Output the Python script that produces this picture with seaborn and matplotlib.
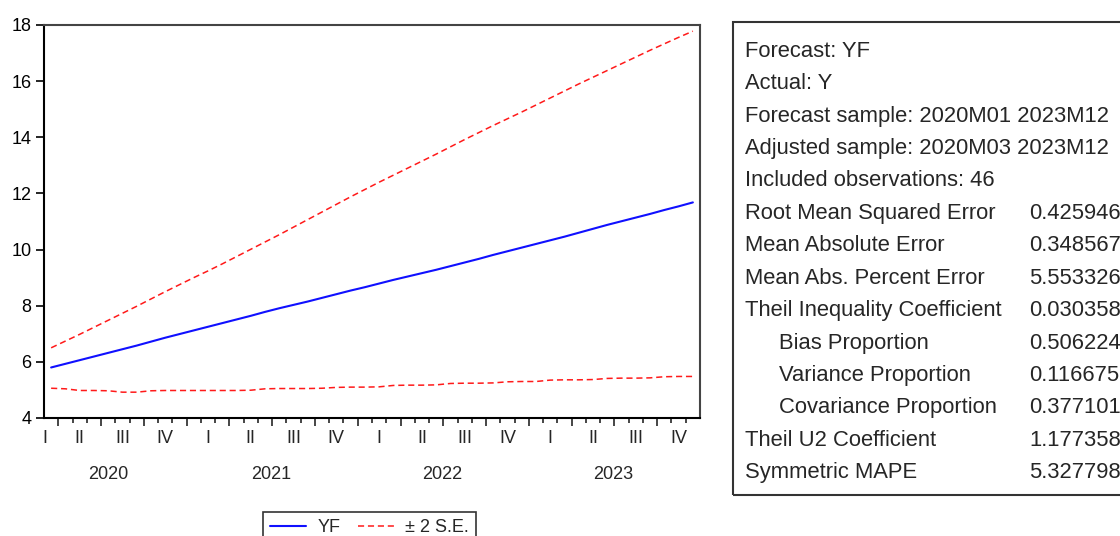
import numpy as np
import pandas as pd
import seaborn as sns
import matplotlib.pyplot as plt
from matplotlib.lines import Line2D
from matplotlib.patches import Rectangle

# ------------------ data ------------------

# slot index on the axis, one per month, 2020M03 .. 2023M12
slots = list(range(1, 47))

yf = [5.80, 5.93, 6.06, 6.19, 6.32, 6.45, 6.58, 6.72, 6.86, 6.99,
      7.12, 7.25, 7.38, 7.51, 7.64, 7.78, 7.91, 8.03, 8.15, 8.28,
      8.41, 8.54, 8.66, 8.79, 8.92, 9.04, 9.16, 9.28, 9.41, 9.54,
      9.67, 9.81, 9.94, 10.07, 10.20, 10.33, 10.46, 10.60, 10.74, 10.88,
      11.01, 11.14, 11.27, 11.41, 11.54, 11.68]

upper = [6.50, 6.74, 6.98, 7.23, 7.48, 7.73, 7.98, 8.24, 8.50, 8.75,
         9.00, 9.24, 9.49, 9.75, 10.01, 10.27, 10.53, 10.80, 11.07, 11.34,
         11.61, 11.88, 12.14, 12.40, 12.65, 12.90, 13.15, 13.40, 13.66, 13.92,
         14.17, 14.42, 14.66, 14.90, 15.15, 15.40, 15.65, 15.90, 16.14, 16.38,
         16.62, 16.86, 17.10, 17.33, 17.56, 17.78]

lower = [5.06, 5.04, 4.98, 4.98, 4.97, 4.92, 4.92, 4.97, 4.98, 4.98,
         4.98, 4.98, 4.98, 4.98, 4.99, 5.04, 5.05, 5.05, 5.05, 5.06,
         5.09, 5.10, 5.10, 5.11, 5.16, 5.17, 5.17, 5.18, 5.23, 5.24,
         5.24, 5.25, 5.29, 5.30, 5.30, 5.35, 5.36, 5.36, 5.37, 5.41,
         5.42, 5.42, 5.43, 5.47, 5.48, 5.48]

quarter_pos = [0.57, 3, 6, 9, 12, 15, 18, 21, 24, 27, 30, 33, 36, 39, 42, 45]
quarter_lab = ["I", "II", "III", "IV"] * 4
year_pos = [5.0, 16.4, 28.4, 40.4]
year_lab = ["2020", "2021", "2022", "2023"]

stat_names = ["Forecast: YF", "Actual: Y",
              "Forecast sample: 2020M01 2023M12",
              "Adjusted sample: 2020M03 2023M12",
              "Included observations: 46",
              "Root Mean Squared Error", "Mean Absolute Error",
              "Mean Abs. Percent Error", "Theil Inequality Coefficient",
              "Bias Proportion", "Variance Proportion", "Covariance Proportion",
              "Theil U2 Coefficient", "Symmetric MAPE"]
stat_values = ["", "", "", "", "",
               "0.425946", "0.348567", "5.553326", "0.030358",
               "0.506224", "0.116675", "0.377101", "1.177358", "5.327798"]
stat_indent = [False] * 9 + [True] * 3 + [False] * 2

# ------------------ plot ------------------

sns.set_style("ticks")
plt.rcParams['font.family'] = ['Liberation Sans', 'DejaVu Sans']

W, H = 1120, 536
fig = plt.figure(figsize=(W / 100, H / 100), dpi=100)
ax = fig.add_axes([44 / W, 1 - 418 / H, 656 / W, 393 / H])

blue = "#1010ff"
red = "#ff1a1a"
sns.lineplot(x=slots, y=upper, ax=ax, color=red, lw=1.1)
sns.lineplot(x=slots, y=lower, ax=ax, color=red, lw=1.1)
sns.lineplot(x=slots, y=yf, ax=ax, color=blue, lw=1.5)
for ln in ax.lines[:2]:
    ln.set_dashes((4, 2.5))

ax.set_xlim(0.5, 46.5)
ax.set_ylim(4, 18)
ax.set_yticks(range(4, 19, 2))
ax.tick_params(axis='y', left=True, direction='out', length=6, width=1.2,
               labelsize=13, pad=3, colors='black')

# month ticks at slot edges, longer ticks every quarter
edges = np.arange(1.5, 46, 1.0)
major = [e for e in edges if (e - 1.5) % 3 == 0]
minor = [e for e in edges if (e - 1.5) % 3 != 0]
ax.set_xticks(major)
ax.set_xticks(minor, minor=True)
ax.set_xticklabels([])
ax.tick_params(axis='x', which='major', bottom=True, direction='out',
               length=6, width=1.2)
ax.tick_params(axis='x', which='minor', bottom=True, direction='out',
               length=3.5, width=1.2)

for s in ["left", "bottom"]:
    ax.spines[s].set_color("black")
    ax.spines[s].set_linewidth(1.5)
for s in ["top", "right"]:
    ax.spines[s].set_visible(True)
    ax.spines[s].set_color("#444444")
    ax.spines[s].set_linewidth(1.5)

tr = ax.get_xaxis_transform()
for p, lab in zip(quarter_pos, quarter_lab):
    ax.text(p, -0.051, lab, transform=tr, ha='center', va='center',
            fontsize=13, clip_on=False)
for p, lab in zip(year_pos, year_lab):
    ax.text(p, -0.145, lab, transform=tr, ha='center', va='center',
            fontsize=13, clip_on=False)

# legend, partly cut by the bottom edge like the original
handles = [Line2D([], [], color=blue, lw=1.5),
           Line2D([], [], color=red, lw=1.1, dashes=(4, 2.5))]
leg = fig.legend(handles, ["YF", "± 2 S.E."], loc='upper left',
                 bbox_to_anchor=(263 / W, 1 - 512 / H), ncol=2,
                 fontsize=13, frameon=True, fancybox=False,
                 edgecolor='black', borderaxespad=0, handlelength=2.0,
                 handletextpad=0.6, columnspacing=1.0, borderpad=0.4)
leg.get_frame().set_linewidth(1.2)

# statistics box on the right
fig.patches.append(Rectangle((733 / W, 1 - 495 / H), 500 / W, 473 / H,
                             transform=fig.transFigure, fill=False,
                             edgecolor='#333333', lw=1.5))
for i, (name, val, ind) in enumerate(zip(stat_names, stat_values, stat_indent)):
    yb = 1 - (56.7 + 32.43 * i) / H
    x0 = 779 if ind else 745
    fig.text(x0 / W, yb, name, fontsize=15.8, va='baseline', ha='left')
    if val:
        fig.text(1029 / W, yb, val, fontsize=15.8, va='baseline', ha='left')

fig.savefig("out.png", dpi=100)
